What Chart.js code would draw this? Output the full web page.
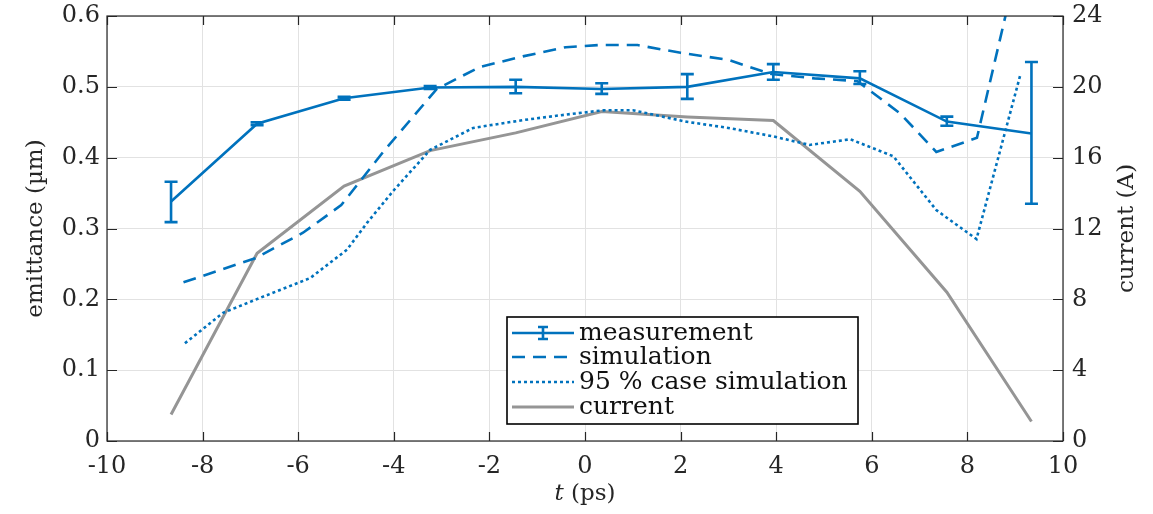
<!DOCTYPE html>
<html>
<head>
<meta charset="utf-8">
<script src="https://cdn.jsdelivr.net/npm/chart.js@4"></script>
<style>
  html, body { margin: 0; padding: 0; background: #fff; }
  canvas { display: block; }
</style>
</head>
<body>
<canvas id="emit-chart" width="1153" height="514"></canvas>
<script>
// measured slices (time in ps, emittance in um, current in A)
const measT = [-8.66, -6.86, -5.04, -3.24, -1.45, 0.35, 2.14, 3.94, 5.75, 7.57, 9.34];
const measEmit = [0.338, 0.448, 0.484, 0.499, 0.500, 0.497, 0.500, 0.521, 0.512, 0.451, 0.434];
const measLow = [0.309, 0.446, 0.482, 0.497, 0.491, 0.490, 0.483, 0.510, 0.504, 0.445, 0.335];
const measHigh = [0.366, 0.450, 0.486, 0.501, 0.510, 0.505, 0.518, 0.532, 0.522, 0.458, 0.535];
const currentA = [1.5, 10.6, 14.4, 16.4, 17.4, 18.6, 18.3, 18.1, 14.1, 8.4, 1.1];

const simT = [-8.4, -6.9, -5.9, -5.1, -4.2, -3.1, -2.2, -1.3, -0.4, 0.3, 1.1, 2.0, 3.0, 3.9, 4.8, 5.7, 6.6, 7.35, 8.2, 8.9];
const simEmit = [0.224, 0.258, 0.294, 0.333, 0.410, 0.497, 0.528, 0.543, 0.556, 0.559, 0.559, 0.548, 0.538, 0.518, 0.512, 0.508, 0.462, 0.408, 0.428, 0.63];

const caseT = [-8.37, -7.57, -6.8, -5.75, -4.98, -4.56, -4.0, -3.24, -2.34, -1.3, -0.5, 0.4, 1.0, 2.1, 3.0, 3.94, 4.7, 5.55, 6.45, 7.35, 8.19, 9.1];
const caseEmit = [0.138, 0.181, 0.202, 0.230, 0.270, 0.308, 0.354, 0.411, 0.442, 0.453, 0.460, 0.467, 0.467, 0.451, 0.442, 0.430, 0.418, 0.426, 0.402, 0.326, 0.285, 0.515];

const xTicks = [-10, -8, -6, -4, -2, 0, 2, 4, 6, 8, 10];
const emitTicks = [0, 0.1, 0.2, 0.3, 0.4, 0.5, 0.6];
const currentTicks = [0, 4, 8, 12, 16, 20, 24];

const BLUE = '#0072BD';
const GREY = '#959595';
const INK = '#262626';
const FONT = '"DejaVu Serif", "Liberation Serif", serif';

const pts = (xs, ys) => xs.map((x, i) => ({ x: x, y: ys[i] }));

// error bars for the measurement series
const errorBars = {
    id: 'errorBars',
    afterDatasetsDraw(chart) {
        const ctx = chart.ctx;
        const xs = chart.scales.x, ys = chart.scales.y;
        ctx.save();
        ctx.strokeStyle = BLUE;
        ctx.lineWidth = 2.6;
        measT.forEach((t, i) => {
            const px = xs.getPixelForValue(t);
            const lo = ys.getPixelForValue(measLow[i]);
            const hi = ys.getPixelForValue(measHigh[i]);
            ctx.beginPath();
            ctx.moveTo(px, lo); ctx.lineTo(px, hi);
            ctx.moveTo(px - 6.5, lo); ctx.lineTo(px + 6.5, lo);
            ctx.moveTo(px - 6.5, hi); ctx.lineTo(px + 6.5, hi);
            ctx.stroke();
        });
        ctx.restore();
    }
};

// box, inward ticks, axis titles and legend
const frame = {
    id: 'frame',
    afterDraw(chart) {
        const ctx = chart.ctx;
        const a = chart.chartArea;
        const xs = chart.scales.x, yl = chart.scales.y, yr = chart.scales.y1;
        ctx.save();
        ctx.strokeStyle = INK;
        ctx.lineWidth = 1.2;
        ctx.strokeRect(a.left, a.top, a.right - a.left, a.bottom - a.top);
        ctx.beginPath();
        xTicks.forEach(v => {
            const px = Math.round(xs.getPixelForValue(v)) + 0.5;
            ctx.moveTo(px, a.bottom); ctx.lineTo(px, a.bottom - 9);
            ctx.moveTo(px, a.top); ctx.lineTo(px, a.top + 9);
        });
        emitTicks.forEach(v => {
            const py = Math.round(yl.getPixelForValue(v)) + 0.5;
            ctx.moveTo(a.left, py); ctx.lineTo(a.left + 10, py);
        });
        currentTicks.forEach(v => {
            const py = Math.round(yr.getPixelForValue(v)) + 0.5;
            ctx.moveTo(a.right, py); ctx.lineTo(a.right - 10, py);
        });
        ctx.stroke();

        // x axis title with italic t
        ctx.fillStyle = INK;
        ctx.textBaseline = 'middle';
        ctx.textAlign = 'left';
        const cx = (a.left + a.right) / 2;
        ctx.font = 'italic 23px ' + FONT;
        const tW = ctx.measureText('t').width;
        ctx.font = '23px ' + FONT;
        const restW = ctx.measureText(' (ps)').width;
        let x0 = cx - (tW + restW) / 2;
        ctx.font = 'italic 23px ' + FONT;
        ctx.fillText('t', x0, 494);
        ctx.font = '23px ' + FONT;
        ctx.fillText(' (ps)', x0 + tW, 494);

        // right axis title, reading upwards
        ctx.save();
        ctx.translate(1127, (a.top + a.bottom) / 2);
        ctx.rotate(-Math.PI / 2);
        ctx.textAlign = 'center';
        ctx.fillText('current (A)', 0, 0);
        ctx.restore();

        // legend
        const lx = 507, ly = 317, lw = 351, lh = 107;
        ctx.fillStyle = '#fff';
        ctx.fillRect(lx, ly, lw, lh);
        ctx.strokeStyle = '#000';
        ctx.lineWidth = 1.6;
        ctx.strokeRect(lx, ly, lw, lh);
        const rows = [333, 357, 382, 407];
        chart.data.datasets.forEach((ds, i) => {
            const y = rows[i];
            ctx.strokeStyle = ds.borderColor;
            ctx.lineWidth = ds.borderWidth;
            ctx.setLineDash(ds.borderDash || []);
            ctx.beginPath();
            ctx.moveTo(512, y); ctx.lineTo(574, y);
            ctx.stroke();
            ctx.setLineDash([]);
            if (i === 0) {
                ctx.beginPath();
                ctx.moveTo(543, y - 6); ctx.lineTo(543, y + 6);
                ctx.moveTo(538, y - 6); ctx.lineTo(548, y - 6);
                ctx.moveTo(538, y + 6); ctx.lineTo(548, y + 6);
                ctx.stroke();
            }
            ctx.fillStyle = '#111';
            ctx.font = '25px ' + FONT;
            ctx.fillText(ds.label, 579, y);
        });
        ctx.restore();
    }
};

new Chart(document.getElementById('emit-chart'), {
    type: 'line',
    data: {
        datasets: [
            {
                label: 'measurement',
                data: pts(measT, measEmit),
                borderColor: BLUE, borderWidth: 2.6,
                pointRadius: 0, yAxisID: 'y'
            },
            {
                label: 'simulation',
                data: pts(simT, simEmit),
                borderColor: BLUE, borderWidth: 2.6,
                borderDash: [13, 8],
                pointRadius: 0, yAxisID: 'y'
            },
            {
                label: '95 % case simulation',
                data: pts(caseT, caseEmit),
                borderColor: BLUE, borderWidth: 2.6,
                borderDash: [3, 3],
                pointRadius: 0, yAxisID: 'y'
            },
            {
                label: 'current',
                data: pts(measT, currentA),
                borderColor: GREY, borderWidth: 3,
                pointRadius: 0, yAxisID: 'y1'
            }
        ]
    },
    options: {
        responsive: false,
        animation: false,
        layout: { padding: { top: 16, left: 0, right: 0, bottom: 0 } },
        plugins: {
            legend: { display: false },
            tooltip: { enabled: false }
        },
        scales: {
            x: {
                type: 'linear', min: -10, max: 10,
                afterFit: s => { s.height = 73; s.paddingLeft = 0; s.paddingRight = 0; },
                afterBuildTicks: s => { s.ticks = xTicks.map(v => ({ value: v })); },
                ticks: { color: INK, padding: 11, font: { family: FONT, size: 24 } },
                grid: { color: '#e2e2e2', drawTicks: false },
                border: { display: false }
            },
            y: {
                position: 'left', min: 0, max: 0.6,
                afterFit: s => { s.width = 107; s.paddingTop = 0; s.paddingBottom = 0; },
                afterBuildTicks: s => { s.ticks = emitTicks.map(v => ({ value: v })); },
                ticks: {
                    color: INK, padding: 7, font: { family: FONT, size: 24 },
                    callback: v => v === 0 ? '0' : v.toFixed(1)
                },
                grid: { color: '#e2e2e2', drawTicks: false },
                border: { display: false },
                title: {
                    display: true, text: 'emittance (µm)', color: INK,
                    padding: { top: 22, bottom: 0 },
                    font: { family: FONT, size: 23 }
                }
            },
            y1: {
                position: 'right', min: 0, max: 24,
                afterFit: s => { s.width = 90; s.paddingTop = 0; s.paddingBottom = 0; },
                afterBuildTicks: s => { s.ticks = currentTicks.map(v => ({ value: v })); },
                ticks: { color: INK, padding: 9, font: { family: FONT, size: 24 } },
                grid: { display: false, drawTicks: false },
                border: { display: false }
            }
        }
    },
    plugins: [errorBars, frame]
});
</script>
</body>
</html>
